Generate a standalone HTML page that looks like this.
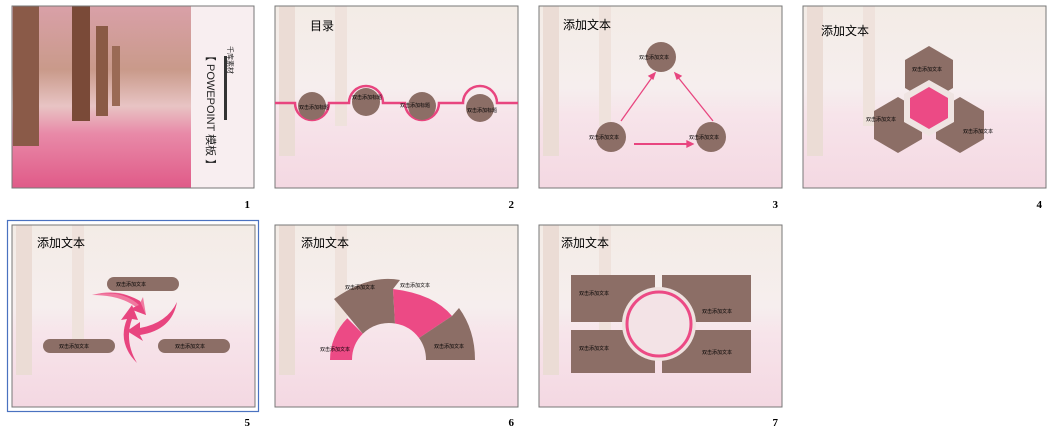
<!DOCTYPE html>
<html><head><meta charset="utf-8"><style>
html,body{margin:0;padding:0;background:#fff;}
svg{display:block;font-family:"Liberation Sans","Noto Sans CJK SC",sans-serif;}
</style></head><body>
<svg width="1053" height="436" viewBox="0 0 1053 436" xmlns="http://www.w3.org/2000/svg">
<defs>
<linearGradient id="bg" x1="0" y1="0" x2="0" y2="1">
<stop offset="0" stop-color="#f3ece6"/><stop offset="0.45" stop-color="#f6eeee"/><stop offset="0.6" stop-color="#f7e4ea"/><stop offset="1" stop-color="#f4d8e2"/>
</linearGradient>
<linearGradient id="ph" x1="0" y1="0" x2="0" y2="1">
<stop offset="0" stop-color="#d9a0a8"/><stop offset="0.35" stop-color="#c99a8a"/><stop offset="0.55" stop-color="#e8c4c4"/><stop offset="0.7" stop-color="#e88aa8"/><stop offset="1" stop-color="#e05a88"/>
</linearGradient>
<g id="slidebg">
<rect x="0" y="0" width="243" height="182" fill="url(#bg)"/>
<rect x="4" y="0" width="16" height="150" fill="#ebdcd5"/>
<rect x="60" y="0" width="12" height="120" fill="#efe2dc"/>
<rect x="0" y="0" width="243" height="182" fill="none" stroke="#777" stroke-width="1"/>
</g>
</defs>

<!-- Slide 1 -->
<g transform="translate(12,6)">
<rect x="0" y="0" width="242" height="182" fill="#f8eef0"/>
<rect x="0" y="0" width="179" height="182" fill="url(#ph)"/>
<rect x="1" y="0" width="26" height="140" fill="#8a5a48"/>
<rect x="60" y="0" width="18" height="115" fill="#7a4a38"/>
<rect x="84" y="20" width="12" height="90" fill="#8a5a45"/>
<rect x="100" y="40" width="8" height="60" fill="#9a6a55"/>
<rect x="0" y="0" width="242" height="182" fill="none" stroke="#777"/>
<text transform="translate(195,44) rotate(90)" font-size="11" fill="#222">【 POWEPOINT  模板  】</text>
<text transform="translate(216,40) rotate(90)" font-size="7" fill="#222">千库素材</text>
<rect x="212" y="50" width="3" height="64" fill="#333"/>
</g>
<text x="250" y="208" font-size="11" font-weight="bold" text-anchor="end" font-family="Liberation Serif">1</text>

<!-- Slide 2 -->
<g transform="translate(275,6)">
<use href="#slidebg"/>
<text x="35" y="24" font-size="12">目录</text>
<path d="M0,97 H20 A17,17 0 0 0 54,97 H74 A17,17 0 0 1 108,97 H130 A17,17 0 0 0 164,97 H188 A17,17 0 0 1 222,97 H243" fill="none" stroke="#e8457f" stroke-width="2.5"/>
<circle cx="37" cy="100" r="14" fill="#8c6e66"/>
<circle cx="91" cy="96" r="14" fill="#8c6e66"/>
<circle cx="147" cy="100" r="14" fill="#8c6e66"/>
<circle cx="205" cy="102" r="14" fill="#8c6e66"/>
<g font-size="5" fill="#000"><text x="24" y="103">双击添加标题</text><text x="77" y="93">双击添加标题</text><text x="125" y="101">双击添加标题</text><text x="192" y="106">双击添加标题</text></g>
</g>
<text x="514" y="208" font-size="11" font-weight="bold" text-anchor="end" font-family="Liberation Serif">2</text>

<!-- Slide 3 -->
<g transform="translate(539,6)">
<use href="#slidebg"/>
<text x="24" y="23" font-size="12">添加文本</text>
<g stroke="#e8457f" stroke-width="1.3" fill="#e8457f">
<line x1="82" y1="115" x2="114" y2="70"/><path d="M116,67 L110,70 L114,73Z"/>
<line x1="174" y1="115" x2="138" y2="70"/><path d="M136,67 L138,73 L142,70Z"/>
<line x1="95" y1="138" x2="150" y2="138" stroke-width="2"/><path d="M154,138 L148,135 L148,141Z"/>
</g>
<circle cx="122" cy="51" r="15" fill="#8c6e66"/>
<circle cx="72" cy="131" r="15" fill="#8c6e66"/>
<circle cx="172" cy="131" r="15" fill="#8c6e66"/>
<g font-size="5" fill="#000"><text x="100" y="53">双击添加文本</text><text x="50" y="133">双击添加文本</text><text x="150" y="133">双击添加文本</text></g>
</g>
<text x="778" y="208" font-size="11" font-weight="bold" text-anchor="end" font-family="Liberation Serif">3</text>

<!-- Slide 4 -->
<g transform="translate(803,6)">
<use href="#slidebg"/>
<text x="18" y="29" font-size="12">添加文本</text>
<g fill="#8c6e66">
<polygon points="126,40 150,54 150,82 126,96 102,82 102,54"/>
<polygon points="95,91 119,105 119,133 95,147 71,133 71,105"/>
<polygon points="157,91 181,105 181,133 157,147 133,133 133,105"/>
</g>
<polygon points="126,74 151,88 151,116 126,130 101,116 101,88" fill="#efe4e2"/>
<polygon points="126,81 145,92 145,112 126,123 107,112 107,92" fill="#ec4a85"/>
<g font-size="5" fill="#000"><text x="109" y="65">双击添加文本</text><text x="63" y="115">双击添加文本</text><text x="160" y="127">双击添加文本</text></g>
</g>
<text x="1042" y="208" font-size="11" font-weight="bold" text-anchor="end" font-family="Liberation Serif">4</text>

<!-- Slide 5 -->
<rect x="7.5" y="220.5" width="251" height="191" fill="none" stroke="#4a72c0" stroke-width="1.2"/>
<g transform="translate(12,225)">
<use href="#slidebg"/>
<text x="25" y="22" font-size="12">添加文本</text>
<g fill="#8c6e66">
<rect x="95" y="52" width="72" height="14" rx="7"/>
<rect x="31" y="114" width="72" height="14" rx="7"/>
<rect x="146" y="114" width="72" height="14" rx="7"/>
</g>
<g font-size="5" fill="#000"><text x="104" y="61">双击添加文本</text><text x="47" y="123">双击添加文本</text><text x="163" y="123">双击添加文本</text></g>
<g fill="#e8457f">
<path d="M80,70 Q110,62 128,78 L131,72 L134,90 L118,84 L124,82 Q108,70 80,70Z" fill="#f07aa0"/>
<path d="M80,70 Q110,64 127,80 L118,84 L134,90 L128,76 Q108,64 80,70Z"/>
<path d="M165,77 Q160,105 128,110 L131,116 L115,106 L128,97 L128,103 Q155,98 165,77Z"/>
<path d="M125,138 Q105,118 115,94 L109,95 L120,80 L126,95 L120,94 Q112,116 125,138Z"/>
</g>
</g>
<text x="250" y="426" font-size="11" font-weight="bold" text-anchor="end" font-family="Liberation Serif">5</text>

<!-- Slide 6 -->
<g transform="translate(275,225)">
<use href="#slidebg"/>
<text x="26" y="22" font-size="12">添加文本</text>
<g transform="translate(114,135)">
<path d="M-59,0 A59,59 0 0 1 -41.7,-41.7 L-26.2,-26.2 A37,37 0 0 0 -37,0Z" fill="#ec4a85"/>
<path d="M-55,-61 Q-20,-86 11,-80 L4,-71 L6,-36.5 A37,37 0 0 0 -26.2,-26.2 Z" fill="#8c6e66"/>
<path d="M4,-71 Q45,-66 63,-44 L30,-22 A37,37 0 0 0 6,-36.5Z" fill="#ec4a85"/>
<path d="M30,-22 L63,-44 L70,-52 Q86,-30 86,0 L37,0 A37,37 0 0 0 30,-22Z" fill="#8c6e66"/>
</g>
<g font-size="5" fill="#000"><text x="70" y="64">双击添加文本</text><text x="125" y="62">双击添加文本</text><text x="45" y="126">双击添加文本</text><text x="159" y="123">双击添加文本</text></g>
</g>
<text x="514" y="426" font-size="11" font-weight="bold" text-anchor="end" font-family="Liberation Serif">6</text>

<!-- Slide 7 -->
<g transform="translate(539,225)">
<use href="#slidebg"/>
<text x="22" y="22" font-size="12">添加文本</text>
<g fill="#8c6e66">
<rect x="32" y="50" width="84" height="47"/>
<rect x="123" y="50" width="89" height="47"/>
<rect x="32" y="105" width="84" height="43"/>
<rect x="123" y="105" width="89" height="43"/>
</g>
<circle cx="120" cy="99" r="37" fill="#efe2e0"/>
<circle cx="120" cy="99" r="32" fill="#f3e3e6" stroke="#ec4a85" stroke-width="3"/>
<g font-size="5" fill="#000"><text x="40" y="70">双击添加文本</text><text x="163" y="88">双击添加文本</text><text x="40" y="125">双击添加文本</text><text x="163" y="129">双击添加文本</text></g>
</g>
<text x="778" y="426" font-size="11" font-weight="bold" text-anchor="end" font-family="Liberation Serif">7</text>
</svg>
</body></html>
